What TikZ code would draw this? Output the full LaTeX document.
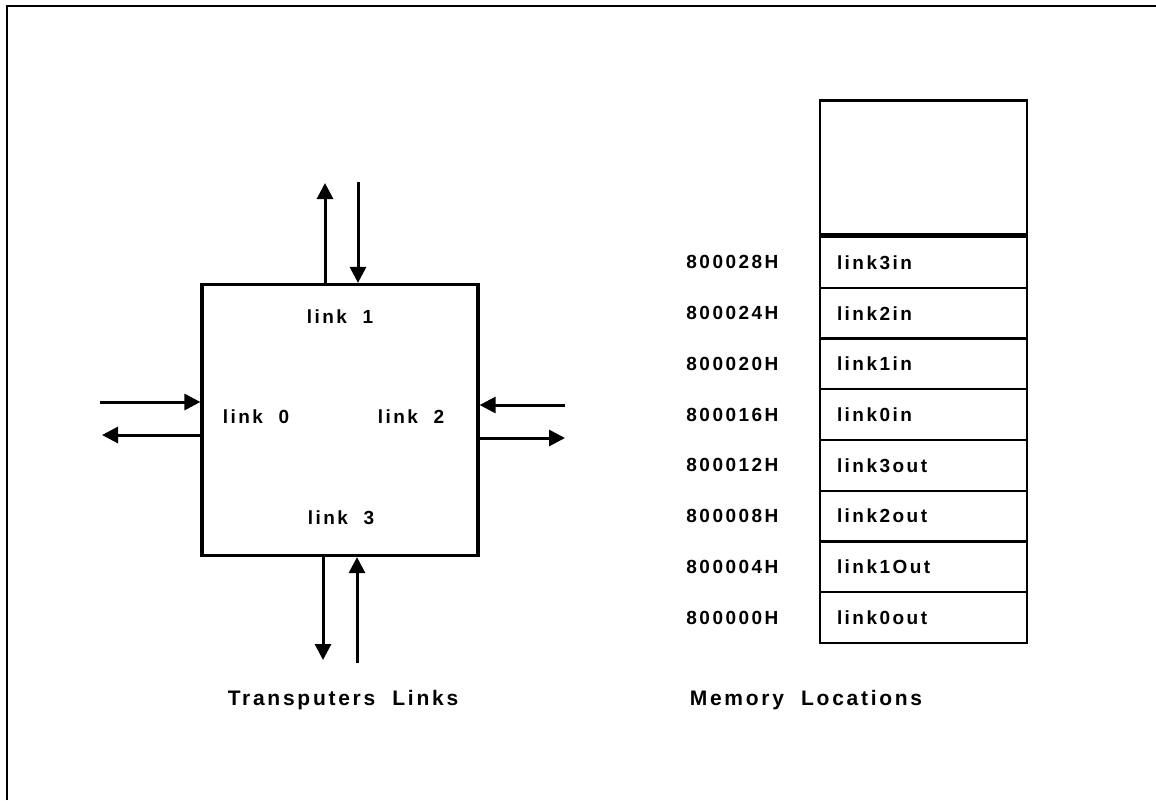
\documentclass[tikz,border=0pt]{standalone}
\usepackage{fontspec}
\usepackage{tikz}
\usetikzlibrary{arrows.meta,positioning,calc}
\newfontfamily\lblfont[LetterSpace=13]{Liberation Sans}

\begin{document}
\begin{tikzpicture}[x=0.5pt, y=-0.5pt,
    tbox/.style={rectangle, draw, line width=1.6pt, minimum width=138pt, minimum height=135.5pt},
    arrow/.style={-{Triangle[length=8pt,width=8pt]}, line width=1.5pt},
    lbl/.style={font=\lblfont\bfseries\fontsize{9.5}{11}\selectfont, inner sep=0pt},
    cell/.style={rectangle, draw, line width=1.2pt, minimum width=103.5pt, minimum height=25.375pt,
                 text width=86.5pt, inner xsep=8.5pt, inner ysep=0pt, align=left,
                 font=\lblfont\bfseries\fontsize{9.5}{11}\selectfont},
    caption/.style={font=\lblfont\bfseries\fontsize{10.5}{12}\selectfont, inner sep=0pt}]
  \useasboundingbox (0,0) rectangle (1156,800);
  % frame (only top and left edges survive)
  \draw[line width=1.1pt] (7,800) -- (7,6) -- (1156,6);

  % transputer with its four links
  \node[tbox] (tp) at (340,420) {};
  \node[lbl] (lk1) at (340,317) {link\ \ 1};
  \node[lbl] (lk0) at (256,417) {link\ \ 0};
  \node[lbl] (lk2) at (411,417) {link\ \ 2};
  \node[lbl] (lk3) at (341,518) {link\ \ 3};

  \coordinate (t1out) at (325,183);
  \coordinate (t1in)  at (358,182);
  \coordinate (b3out) at (323,660);
  \coordinate (b3in)  at (357,663);
  \coordinate (l0in)  at (100,402);
  \coordinate (l0out) at (102,435);
  \coordinate (r2in)  at (565,405);
  \coordinate (r2out) at (565,438);
  \draw[arrow] (tp.north -| t1out) -- (t1out);
  \draw[arrow] (t1in) -- (t1in |- tp.north);
  \draw[arrow] (tp.south -| b3out) -- (b3out);
  \draw[arrow] (b3in) -- (b3in |- tp.south);
  \draw[arrow] (l0in) -- (l0in -| tp.west);
  \draw[arrow] (tp.west |- l0out) -- (l0out);
  \draw[arrow] (r2in) -- (r2in -| tp.east);
  \draw[arrow] (tp.east |- r2out) -- (r2out);

  % memory map
  \foreach \addr/\cellname [count=\i from 0] in {800028H/link3in, 800024H/link2in, 800020H/link1in,
      800016H/link0in, 800012H/link3out, 800008H/link2out, 800004H/link1Out, 800000H/link0out} {
    \node[cell] (c\i) at (923.5,{262.4+50.75*\i}) {\cellname};
    \node[lbl, left=20pt of c\i] (a\i) {\addr};
  }
  \node[rectangle, draw, line width=1.2pt, minimum width=103.5pt, minimum height=67pt,
        above=0pt of c0] (free) {};

  \node[caption] (cap1) at (343,700) {Transputers\ \ Links};
  \node[caption] (cap2) at (806,700) {Memory\ \ Locations};
\end{tikzpicture}
\end{document}
